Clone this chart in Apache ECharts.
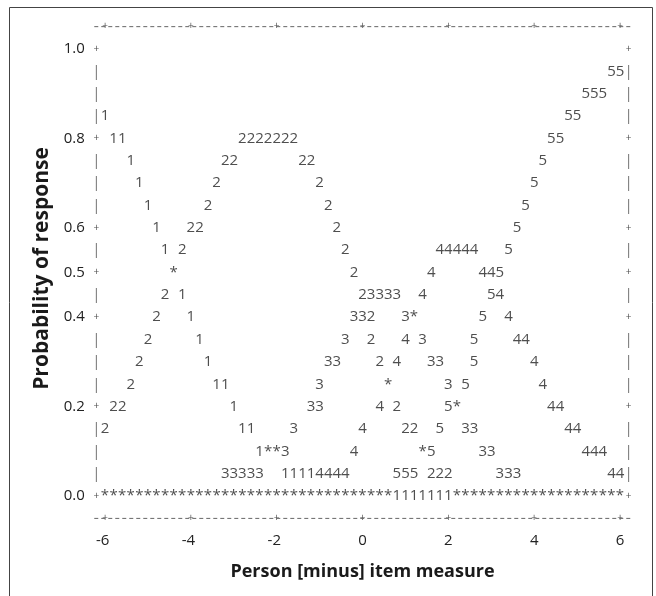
<!DOCTYPE html>
<html><head><meta charset="utf-8">
<script src="https://cdn.jsdelivr.net/npm/echarts@6/dist/echarts.min.js"></script>
<style>html,body{margin:0;padding:0;background:#fff}#c{width:656px;height:596px}</style>
</head><body><div id="c"></div>
<script>
// Axis ticks
const xTicks = [-6, -4, -2, 0, 2, 4, 6];
const yTicks = [0.0, 0.2, 0.4, 0.5, 0.6, 0.8, 1.0];
// Character-plot resolution (measure units per text column)
const CHAR_STEP = 0.2;
// Rows of the character plot (probability of each printed row)
const rowProb = [1.00, 0.95, 0.90, 0.85, 0.80, 0.75, 0.70, 0.65, 0.60, 0.55, 0.50,
                 0.45, 0.40, 0.35, 0.30, 0.25, 0.20, 0.15, 0.10, 0.05, 0.00];
// Printed runs on each row: [measure of first character, text]
const rowTokens = [
  [],
  [[5.8, '55']],
  [[5.2, '555']],
  [[-6.0, '1'], [4.8, '55']],
  [[-5.8, '11'], [-2.8, '2222222'], [4.4, '55']],
  [[-5.4, '1'], [-3.2, '22'], [-1.4, '22'], [4.2, '5']],
  [[-5.2, '1'], [-3.4, '2'], [-1.0, '2'], [4.0, '5']],
  [[-5.0, '1'], [-3.6, '2'], [-0.8, '2'], [3.8, '5']],
  [[-4.8, '1'], [-4.0, '22'], [-0.6, '2'], [3.6, '5']],
  [[-4.6, '1 2'], [-0.4, '2'], [1.8, '44444'], [3.4, '5']],
  [[-4.4, '*'], [-0.2, '2'], [1.6, '4'], [2.8, '445']],
  [[-4.6, '2 1'], [0.0, '23333'], [1.4, '4'], [3.0, '54']],
  [[-4.8, '2'], [-4.0, '1'], [-0.2, '332'], [1.0, '3*'], [2.8, '5'], [3.4, '4']],
  [[-5.0, '2'], [-3.8, '1'], [-0.4, '3'], [0.2, '2'], [1.0, '4 3'], [2.6, '5'], [3.6, '44']],
  [[-5.2, '2'], [-3.6, '1'], [-0.8, '33'], [0.4, '2 4'], [1.6, '33'], [2.6, '5'], [4.0, '4']],
  [[-5.4, '2'], [-3.4, '11'], [-1.0, '3'], [0.6, '*'], [2.0, '3 5'], [4.2, '4']],
  [[-5.8, '22'], [-3.0, '1'], [-1.2, '33'], [0.4, '4 2'], [2.0, '5*'], [4.4, '44']],
  [[-6.0, '2'], [-2.8, '11'], [-1.6, '3'], [0.0, '4'], [1.0, '22'], [1.8, '5'], [2.4, '33'], [4.8, '44']],
  [[-2.4, '1**3'], [-0.2, '4'], [1.4, '*5'], [2.8, '33'], [5.2, '444']],
  [[-3.2, '33333'], [-1.8, '11114444'], [0.8, '555 222'], [3.2, '333'], [5.8, '44']],
  [[-6.0, '**********************************'], [0.8, '1111111'], [2.2, '********************']]
];
// Frame of the character plot
const frameX = [-6.2, 6.2];
const frameY = [1.05, -0.05];
const frameSpan = [-6.25, 6.25];

const FONT = 'Open Sans';
const marks = [], bars = [], plus = [];
rowProb.forEach((p, r) => {
  rowTokens[r].forEach(([x0, s]) => {
    for (let k = 0; k < s.length; k++) {
      const ch = s[k];
      if (ch !== ' ') marks.push({ value: [+(x0 + k * CHAR_STEP).toFixed(3), p], ch });
    }
  });
  const isTick = yTicks.some(t => Math.abs(t - p) < 1e-9);
  frameX.forEach(fx => (isTick ? plus : bars).push({ value: [fx, p], ch: isTick ? '+' : '|' }));
});
frameY.forEach(fy => xTicks.forEach(t => plus.push({ value: [t, fy], ch: '+' })));

function textSeries(data, size, color) {
  return {
    type: 'scatter', data, symbolSize: 0, silent: true, clip: false, animation: false,
    label: { show: true, position: 'inside', formatter: p => p.data.ch,
      fontFamily: FONT, fontSize: size, color, verticalAlign: 'middle', align: 'center' }
  };
}

const chart = echarts.init(document.getElementById('c'), null, { renderer: 'canvas' });
chart.setOption({
  backgroundColor: '#fff',
  animation: false,
  graphic: [{ type: 'rect', shape: { x: 9.5, y: 7.5, width: 643, height: 620 },
    style: { fill: 'none', stroke: '#444', lineWidth: 1 }, silent: true }],
  grid: { left: 87.83, top: 4.3, width: 549.34, height: 528.4 },
  xAxis: {
    type: 'value', min: -6.4, max: 6.4,
    axisLine: { show: false }, axisTick: { show: false }, splitLine: { show: false },
    axisLabel: {
      customValues: xTicks, margin: 1, fontFamily: FONT, fontSize: 15, color: '#222',
      formatter: v => v < 0 ? '-' + Math.abs(v) + '{h|-}' : String(v),
      rich: { h: { color: 'rgba(0,0,0,0)', fontFamily: FONT, fontSize: 15 } }
    },
    name: 'Person [minus] item measure', nameLocation: 'middle', nameGap: 30,
    nameTextStyle: { fontFamily: FONT, fontSize: 18, fontWeight: 'bold', color: '#1a1a1a' }
  },
  yAxis: {
    type: 'value', min: -0.082, max: 1.1,
    axisLine: { show: false }, axisTick: { show: false }, splitLine: { show: false },
    axisLabel: {
      customValues: yTicks, margin: 3, fontFamily: FONT, fontSize: 15, color: '#222',
      formatter: v => v.toFixed(1)
    },
    name: 'Probability of response', nameLocation: 'middle', nameGap: 34, nameRotate: 90,
    nameTextStyle: { fontFamily: FONT, fontSize: 21, fontWeight: 'bold', color: '#1a1a1a' }
  },
  series: [
    ...frameY.map(fy => ({
      type: 'line', data: [[frameSpan[0], fy], [frameSpan[1], fy]], symbol: 'none', silent: true,
      lineStyle: { color: '#666', width: 1, type: [4, 3] }, animation: false
    })),
    textSeries(bars, 15, '#555'),
    textSeries(plus, 10, '#222'),
    textSeries(marks, 15, '#222')
  ]
});
</script></body></html>
